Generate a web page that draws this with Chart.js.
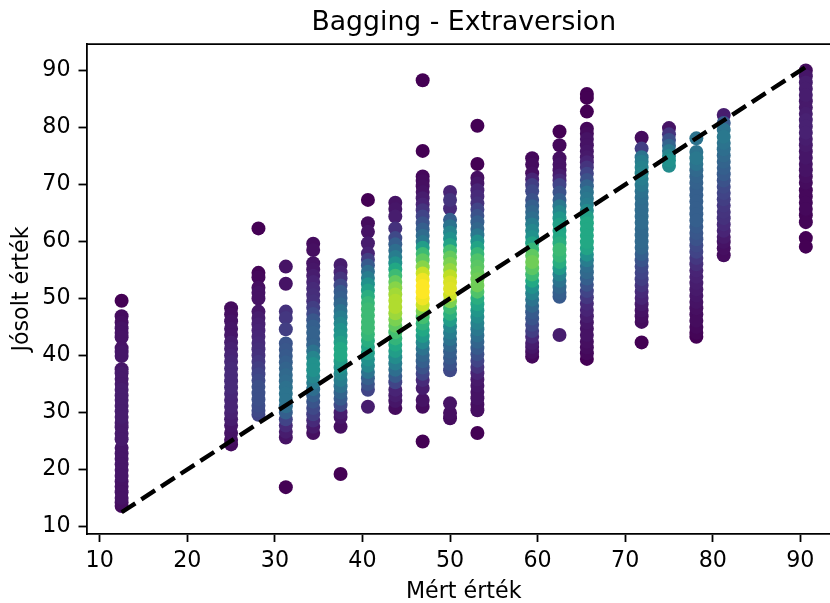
<!DOCTYPE html>
<html lang="en">
<head>
<meta charset="UTF-8">
<title>Bagging - Extraversion</title>
<script src="https://cdnjs.cloudflare.com/ajax/libs/Chart.js/4.4.0/chart.umd.min.js"></script>
<style>
html, body { margin: 0; padding: 0; background: #fff; overflow: hidden; width: 830px; height: 603px; }
#wrap { position: relative; width: 848px; height: 603px; }
</style>
</head>
<body>
<div id="wrap"><canvas id="chart" width="848" height="603"></canvas></div>
<script>
// measured value of each column
const measured = [12.5, 25, 28.125, 31.25, 34.375, 37.5, 40.625, 43.75, 46.875, 50, 53.125, 59.375, 62.5, 65.625, 71.875, 75, 78.125, 81.25, 90.625];

const p12 = [49.6,46.9,45.8,44.8,44.0,43.2,41.3,40.6,39.9,37.6,36.9,35.9,35.0,34.0,33.0,32.2,31.2,30.2,29.2,28.2,27.4,26.3,25.3,23.8,22.8,21.9,20.9,19.9,18.9,17.9,17.0,16.0,15.0,14.2,13.6];
const d12 = [0,.03,.04,.05,.05,.05,.05,.06,.06,.06,.07,.07,.07,.08,.08,.08,.08,.08,.08,.07,.07,.07,.07,.06,.06,.06,.06,.06,.06,.05,.05,.05,.05,.04,.03];
const p25 = [48.3,47.2,46.0,44.7,43.6,42.3,41.2,40.0,38.9,37.7,36.6,35.5,34.4,33.3,32.2,31.0,29.9,28.8,27.7,26.4,25.2,24.4];
const d25 = [.03,.04,.05,.06,.06,.08,.09,.10,.11,.12,.12,.12,.12,.11,.10,.10,.09,.08,.06,.05,.04,.03];
const p28 = [62.3,54.5,53.7,51.9,51.0,50.0,47.7,46.6,45.5,44.4,43.3,42.2,41.1,40.0,38.9,37.8,36.7,35.6,34.5,33.4,32.3,31.2,30.3,29.6];
const d28 = [0,.01,.02,.04,.05,.05,.06,.08,.09,.10,.11,.12,.13,.14,.16,.18,.20,.22,.24,.24,.24,.23,.22,.20];
const p31 = [55.6,52.6,47.7,46.6,44.6,42.1,41.0,39.9,38.8,37.7,36.6,35.5,34.4,33.3,32.2,31.1,30.0,28.8,27.7,26.6,25.6,16.9];
const d31 = [.05,.05,.14,.16,.18,.26,.27,.28,.30,.32,.34,.35,.37,.38,.38,.36,.30,.20,.12,.08,.05,0];
const p34 = [59.6,58.5,56.2,55.1,54.0,52.9,51.7,50.6,49.5,48.4,47.3,46.2,45.1,44.0,42.9,41.8,40.7,39.6,38.5,37.4,36.3,35.2,34.1,33.0,31.9,30.8,29.7,28.6,27.5,26.4];
const d34 = [.03,.04,.05,.06,.08,.10,.12,.13,.14,.18,.22,.27,.30,.31,.30,.32,.38,.45,.50,.50,.46,.42,.36,.30,.26,.22,.18,.12,.07,.04];
const p37 = [55.9,54.6,53.5,52.3,51.2,50.1,49.0,47.8,46.7,45.6,44.5,43.4,42.3,41.2,40.1,39.0,37.9,36.8,35.7,34.6,33.5,32.4,31.3,30.0,29.2,27.5,19.2];
const d37 = [.08,.10,.15,.22,.28,.30,.33,.38,.42,.46,.50,.52,.56,.60,.60,.55,.50,.46,.42,.37,.32,.28,.22,.08,.06,.04,0];
const p40 = [67.3,63.2,61.7,59.7,57.9,56.8,55.8,54.7,53.6,52.5,51.4,50.3,49.2,48.1,47.0,45.9,44.8,43.7,42.6,41.5,40.4,39.3,38.2,37.1,36.0,35.0,34.0,31.0];
const d40 = [0,.03,.05,.08,.10,.18,.28,.36,.42,.50,.56,.62,.66,.68,.68,.68,.68,.66,.62,.58,.55,.50,.46,.38,.30,.25,.20,.08];
const p43 = [66.8,65.7,64.4,62.3,60.6,59.5,58.4,57.3,56.2,55.1,54.0,52.9,51.8,50.7,49.6,48.5,47.4,46.3,45.2,44.1,43.0,41.9,40.8,39.7,38.6,37.5,36.4,35.3,34.0,33.0,32.0,30.8];
const d43 = [.05,.06,.08,.14,.22,.30,.36,.42,.50,.60,.68,.76,.82,.86,.88,.88,.85,.80,.75,.70,.65,.60,.55,.48,.42,.36,.28,.20,.10,.08,.06,.03];
const p46 = [88.3,75.9,71.4,70.6,69.7,68.7,67.6,66.5,65.5,64.4,63.2,62.1,61.0,59.9,58.9,57.8,56.7,55.5,54.4,53.3,52.2,51.1,50.0,48.9,47.8,46.7,45.6,44.5,43.4,42.3,41.2,40.1,39.0,37.9,36.8,35.7,34.3,32.2,31.0,24.9];
const d46 = [0,0,.02,.03,.04,.05,.08,.10,.15,.20,.25,.30,.35,.40,.55,.68,.75,.82,.92,.98,1,1,.98,.92,.80,.70,.64,.60,.54,.46,.38,.33,.30,.25,.20,.12,.08,.05,.03,0];
const p50 = [68.7,67.3,65.8,63.8,62.7,61.6,60.5,59.4,58.3,57.2,56.1,55.0,53.9,52.8,51.7,50.6,49.5,48.4,47.3,46.2,45.1,44.0,42.9,41.8,40.7,39.6,38.5,37.4,31.6,29.9,29.0];
const d50 = [.10,.15,.12,.30,.38,.45,.50,.58,.70,.76,.80,.84,.90,.94,.95,.92,.80,.68,.63,.55,.46,.42,.38,.33,.30,.28,.25,.22,.05,.04,.03];
const p53 = [80.3,73.6,71.2,70.2,69.0,67.9,66.7,65.6,64.5,63.4,62.2,61.1,60.0,58.9,57.8,56.7,55.6,54.5,53.4,52.3,51.2,50.1,49.0,47.9,46.8,45.7,44.6,43.5,42.4,41.3,40.2,39.1,38.0,36.9,35.8,34.7,33.6,32.5,31.4,30.4,26.4];
const d53 = [0,0,.04,.06,.10,.12,.14,.20,.25,.30,.33,.40,.50,.58,.66,.72,.74,.76,.78,.78,.72,.62,.58,.52,.48,.44,.40,.36,.32,.28,.24,.20,.15,.10,.07,.06,.05,.05,.04,.04,0];
const p59 = [74.6,73.5,72.0,70.9,69.9,68.8,67.3,66.2,65.2,64.1,63.0,61.9,60.8,59.7,58.6,57.5,56.4,55.3,54.2,53.1,52.0,50.9,49.8,48.7,47.6,46.5,45.4,44.3,43.3,42.2,41.5,40.6,39.8];
const d59 = [.02,.03,.04,.10,.18,.22,.25,.30,.33,.36,.42,.46,.50,.58,.66,.75,.78,.74,.68,.60,.50,.44,.38,.33,.28,.26,.22,.18,.12,.08,.06,.04,.02];
const p62 = [79.3,76.9,74.6,73.5,72.5,71.6,70.7,69.9,68.6,67.3,66.2,65.2,64.1,63.0,61.9,60.8,59.7,58.6,57.5,56.4,55.3,54.2,53.1,52.0,51.0,50.3,43.6];
const d62 = [0,.02,.04,.05,.05,.08,.12,.20,.25,.30,.40,.46,.52,.56,.58,.60,.62,.68,.66,.62,.54,.44,.38,.33,.30,.28,.08];
const p65 = [85.9,85.2,82.8,79.8,78.9,78.0,76.9,75.8,74.8,73.9,73.0,71.9,70.8,69.7,68.6,67.5,66.5,65.4,64.3,63.2,62.1,61.0,59.9,58.8,57.7,56.7,55.7,54.6,53.5,52.4,51.3,50.2,49.1,48.0,46.9,45.8,44.7,43.6,42.4,41.4,40.4,39.4];
const d65 = [0,0,0,.02,.03,.05,.05,.06,.07,.10,.15,.20,.25,.32,.38,.40,.42,.48,.56,.60,.60,.60,.60,.58,.50,.42,.36,.34,.30,.25,.20,.16,.12,.10,.08,.06,.05,.05,.04,.03,.02,0];
const p71 = [78.2,76.3,74.8,74.0,73.0,72.0,71.0,69.9,68.8,67.7,66.6,65.5,64.4,63.3,62.2,61.1,60.0,58.9,57.8,56.7,55.6,54.5,53.4,52.3,51.2,50.1,49.0,47.9,46.9,45.9,42.3];
const d71 = [.03,.18,.38,.42,.44,.45,.42,.40,.37,.36,.35,.35,.35,.35,.34,.34,.34,.33,.30,.26,.22,.20,.18,.15,.12,.10,.07,.05,.04,.03,0];
const p75 = [79.9,78.8,77.8,76.8,75.9,75.0,74.2,73.3];
const d75 = [.05,.15,.24,.32,.40,.46,.50,.48];
const p78 = [78.1,75.7,74.6,73.6,72.5,71.4,70.3,69.2,68.1,67.0,65.9,64.8,63.7,62.6,61.5,60.4,59.3,58.2,57.1,56.0,54.9,53.8,52.7,51.6,50.5,49.4,48.3,47.2,46.1,45.0,44.0,43.3];
const d78 = [.38,.38,.40,.38,.34,.32,.31,.30,.30,.30,.30,.30,.30,.28,.27,.25,.22,.20,.16,.13,.10,.09,.08,.07,.06,.05,.04,.03,.03,.02,.01,0];
const p81 = [82.2,80.8,79.6,78.4,77.3,76.2,75.1,74.0,72.9,71.8,70.7,69.6,68.5,67.4,66.3,65.2,64.1,63.0,61.9,60.8,59.9,58.8,57.6];
const d81 = [.08,.28,.38,.40,.38,.36,.34,.32,.30,.28,.25,.22,.20,.18,.16,.15,.14,.12,.10,.07,.05,.04,.03];
const p90 = [90.0,89.0,87.9,86.8,85.7,84.6,83.5,82.4,81.3,80.2,79.1,78.0,76.9,75.8,74.7,73.6,72.5,71.4,70.3,69.0,67.9,66.8,65.7,64.6,63.4,60.6,59.1];
const d90 = [.03,.06,.08,.08,.08,.07,.07,.08,.09,.09,.09,.08,.07,.06,.06,.05,.05,.04,.03,.02,.02,.02,.02,.01,.01,0,0];

const predicted = [p12, p25, p28, p31, p34, p37, p40, p43, p46, p50, p53, p59, p62, p65, p71, p75, p78, p81, p90];
const levels = [d12, d25, d28, d31, d34, d37, d40, d43, d46, d50, d53, d59, d62, d65, d71, d75, d78, d81, d90];

// the dashed identity line
const lineX = [12.5, 90.625];
const lineY = [12.5, 90.625];

const xTicks = [10, 20, 30, 40, 50, 60, 70, 80, 90];
const yTicks = [10, 20, 30, 40, 50, 60, 70, 80, 90];

const viridis = ['#440154','#482475','#414487','#355f8d','#2a788e','#21918c','#22a884','#44bf70','#7ad151','#bddf26','#fde725'];

function hex(c) {
    return [1, 3, 5].map(i => parseInt(c.slice(i, i + 2), 16));
}

function levelColor(t) {
    const pos = Math.min(t * 10, 9.999);
    const i = Math.floor(pos);
    const a = hex(viridis[i]), b = hex(viridis[i + 1]);
    const c = a.map((v, k) => Math.round(v + (b[k] - v) * (pos - i)));
    return 'rgb(' + c.join(',') + ')';
}

// flat list, lowest level first so the bright dots end up on top
const dots = [];
measured.forEach((x, i) => {
    predicted[i].forEach((y, j) => {
        const lv = levels[i][j] === undefined ? 0.05 : levels[i][j];
        dots.push({ x: x, y: y, lv: lv });
    });
});
dots.sort((a, b) => a.lv - b.lv);

const font = 'DejaVu Sans';
const tickFont = { family: font, size: 22.2 };

// top spine, chart.js has no option for it
const topSpine = {
    id: 'topSpine',
    afterDatasetsDraw(chart) {
        const { ctx, chartArea } = chart;
        ctx.save();
        ctx.strokeStyle = '#000';
        ctx.lineWidth = 1.8;
        ctx.beginPath();
        ctx.moveTo(chartArea.left, chartArea.top);
        ctx.lineTo(chartArea.right, chartArea.top);
        ctx.stroke();
        ctx.restore();
    }
};

new Chart(document.getElementById('chart').getContext('2d'), {
    type: 'scatter',
    data: {
        datasets: [{
            data: dots.map(d => ({ x: d.x, y: d.y })),
            backgroundColor: dots.map(d => levelColor(d.lv)),
            borderWidth: 0,
            pointRadius: 7,
            order: 2
        }, {
            type: 'line',
            data: lineX.map((x, i) => ({ x: x, y: lineY[i] })),
            borderColor: '#000',
            borderWidth: 4.4,
            borderDash: [16.4, 7.1],
            pointRadius: 0,
            fill: false,
            tension: 0,
            order: 1
        }]
    },
    options: {
        responsive: false,
        animation: false,
        layout: { padding: { left: 0, right: 1, top: 0, bottom: 0 } },
        plugins: {
            legend: { display: false },
            tooltip: { enabled: false },
            title: {
                display: true,
                text: 'Bagging - Extraversion',
                color: '#000',
                fullSize: false,
                font: { family: font, size: 26.7, weight: 'normal' },
                padding: { top: 7, bottom: 5 }
            }
        },
        scales: {
            x: {
                type: 'linear',
                min: 8.491,
                max: 94.64,
                afterBuildTicks: s => { s.ticks = xTicks.map(v => ({ value: v })); },
                afterFit: s => { s.height = 69; },
                border: { color: '#000', width: 1.8 },
                grid: { drawOnChartArea: false, drawTicks: true, tickLength: 8, tickColor: '#000', tickWidth: 1.8 },
                ticks: { color: '#000', font: tickFont, padding: 6, maxRotation: 0, autoSkip: false },
                title: { display: true, text: 'Mért érték', color: '#000', font: tickFont, padding: { top: 0, bottom: -3 } }
            },
            y: {
                type: 'linear',
                min: 8.68,
                max: 94.65,
                afterBuildTicks: s => { s.ticks = yTicks.map(v => ({ value: v })); },
                afterFit: s => { s.width = 86.5; },
                border: { color: '#000', width: 1.8 },
                grid: { drawOnChartArea: false, drawTicks: true, tickLength: 8, tickColor: '#000', tickWidth: 1.8 },
                ticks: { color: '#000', font: tickFont, padding: 8, autoSkip: false },
                title: { display: true, text: 'Jósolt érték', color: '#000', font: tickFont, padding: { top: 9, bottom: 0 } }
            }
        }
    },
    plugins: [topSpine]
});
</script>
</body>
</html>
